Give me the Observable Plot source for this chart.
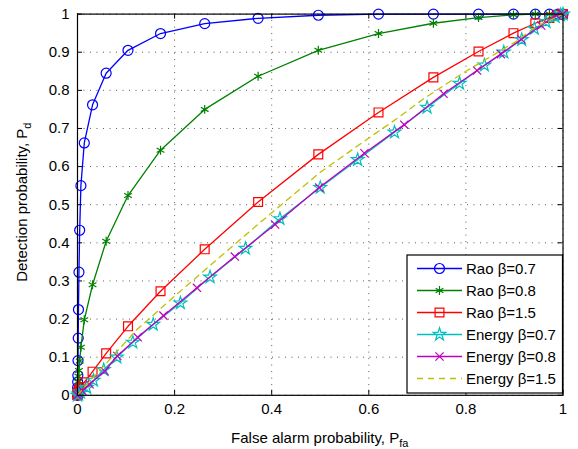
<!DOCTYPE html>
<html><head><meta charset="utf-8">
<script src="https://cdn.jsdelivr.net/npm/d3@7"></script>
<script src="https://cdn.jsdelivr.net/npm/@observablehq/plot@0.6"></script>
<style>
body{margin:0;background:#fff;}
svg{font-family:Arial,"Liberation Sans",Helvetica,sans-serif;}
</style>
</head><body><div id="chart"></div>
<script>
// ---- data ----
const raoPfa   = [0, 0.0002, 0.0004, 0.0007, 0.001, 0.0015, 0.002, 0.003, 0.0045, 0.007, 0.014, 0.031, 0.059, 0.104, 0.171, 0.262, 0.372, 0.496, 0.62, 0.733, 0.826, 0.898, 0.943, 0.972, 0.99, 1];
const raoB07Pd = [0, 0.02, 0.035, 0.052, 0.091, 0.15, 0.225, 0.323, 0.433, 0.55, 0.662, 0.762, 0.845, 0.905, 0.949, 0.975, 0.989, 0.997, 1, 1, 1, 1, 1, 1, 1, 1];
const raoB08Pd = [0, 0.005, 0.01, 0.018, 0.025, 0.035, 0.05, 0.065, 0.09, 0.126, 0.198, 0.29, 0.404, 0.524, 0.643, 0.75, 0.837, 0.905, 0.949, 0.976, 0.991, 0.998, 1, 1, 1, 1];
const raoB15Pd = [0, 0.001, 0.002, 0.003, 0.005, 0.007, 0.009, 0.012, 0.016, 0.022, 0.034, 0.062, 0.11, 0.181, 0.273, 0.383, 0.507, 0.632, 0.742, 0.834, 0.902, 0.95, 0.976, 0.99, 0.998, 1];

const enB07Pfa = [0, 0.002, 0.006, 0.019, 0.033, 0.054, 0.081, 0.114, 0.156, 0.212, 0.273, 0.346, 0.417, 0.5, 0.577, 0.653, 0.72, 0.787, 0.838, 0.878, 0.915, 0.941, 0.965, 0.984, 0.995, 1];
const enB07Pd  = [0, 0.003, 0.008, 0.02, 0.039, 0.067, 0.1, 0.139, 0.186, 0.242, 0.31, 0.385, 0.463, 0.545, 0.618, 0.69, 0.755, 0.818, 0.866, 0.9, 0.933, 0.962, 0.98, 0.993, 0.998, 1];

const enB08Pfa = [0, 0.003, 0.01, 0.025, 0.056, 0.082, 0.124, 0.177, 0.246, 0.324, 0.407, 0.498, 0.591, 0.673, 0.754, 0.823, 0.872, 0.914, 0.955, 0.986, 1];
const enB08Pd  = [0, 0.004, 0.012, 0.029, 0.063, 0.103, 0.152, 0.209, 0.282, 0.364, 0.448, 0.545, 0.635, 0.71, 0.791, 0.852, 0.895, 0.934, 0.97, 0.997, 1];

const enB15Pfa = [0, 0.02, 0.055, 0.122, 0.2, 0.3, 0.373, 0.5, 0.6, 0.658, 0.713, 0.8, 0.902, 0.943, 1];
const enB15Pd  = [0, 0.03, 0.078, 0.172, 0.26, 0.37, 0.45, 0.585, 0.675, 0.726, 0.778, 0.85, 0.927, 0.966, 1];

const seriesNames = ["Rao \u03b2=0.7", "Rao \u03b2=0.8", "Rao \u03b2=1.5", "Energy \u03b2=0.7", "Energy \u03b2=0.8", "Energy \u03b2=1.5"];
const seriesX = [raoPfa, raoPfa, raoPfa, enB07Pfa, enB08Pfa, enB15Pfa];
const seriesY = [raoB07Pd, raoB08Pd, raoB15Pd, enB07Pd, enB08Pd, enB15Pd];

const xTicks = [0, 0.2, 0.4, 0.6, 0.8, 1];
const xTickLabels = ["0", "0.2", "0.4", "0.6", "0.8", "1"];
const yTicks = [0, 0.1, 0.2, 0.3, 0.4, 0.5, 0.6, 0.7, 0.8, 0.9, 1];
const yTickLabels = ["0", "0.1", "0.2", "0.3", "0.4", "0.5", "0.6", "0.7", "0.8", "0.9", "1"];

// ---- styles ----
const colors = ["#0000ff", "#008000", "#ff0000", "#00bfbf", "#bf00bf", "#bfbf00"];
const symbols = ["circle", "asterisk", "square", "star", "times", null];
const symbolR = [5, 4.2, 5, 4, 3.8, 0];
const dashes = [null, null, null, null, null, "6,5"];

const rows = [];
seriesNames.forEach((name, s) => {
  seriesX[s].forEach((x, i) => rows.push({series: name, s, x, y: seriesY[s][i]}));
});

const W = 578, H = 449;
const mL = 77, mR = 15.5, mT = 13.6, mB = 54.2;
const innerW = W - mL - mR, innerH = H - mT - mB;

const marks = [
  Plot.gridX(xTicks, {stroke: "#000", strokeOpacity: 0.65, strokeDasharray: "1,5.5", strokeWidth: 1}),
  Plot.gridY(yTicks, {stroke: "#000", strokeOpacity: 0.65, strokeDasharray: "1,5.5", strokeWidth: 1}),
  Plot.tickX(xTicks, {x: d => d, insetTop: innerH - 5, stroke: "#000"}),
  Plot.tickX(xTicks, {x: d => d, insetBottom: innerH - 5, stroke: "#000"}),
  Plot.tickY(yTicks, {y: d => d, insetRight: innerW - 5, stroke: "#000"}),
  Plot.tickY(yTicks, {y: d => d, insetLeft: innerW - 5, stroke: "#000"}),
  Plot.axisX({ticks: xTicks, tickSize: 0, tickPadding: 8, tickFormat: (d) => xTickLabels[xTicks.indexOf(d)], label: null, fontSize: 15, fill: "#000"}),
  Plot.axisY({ticks: yTicks, tickSize: 0, tickPadding: 8, tickFormat: (d) => yTickLabels[yTicks.indexOf(d)], label: null, fontSize: 15, fill: "#000"})
];
seriesNames.forEach((name, s) => {
  const data = rows.filter(r => r.s === s);
  marks.push(Plot.line(data, {x: "x", y: "y", stroke: colors[s], strokeWidth: 1.3, strokeDasharray: dashes[s]}));
  if (symbols[s]) marks.push(Plot.dot(data, {x: "x", y: "y", stroke: colors[s], fill: "none", symbol: () => symbols[s], r: symbolR[s], strokeWidth: 1.2}));
});
marks.push(Plot.frame({stroke: "#000", strokeWidth: 1.2}));

const chart = Plot.plot({
  width: W, height: H,
  marginLeft: mL, marginRight: mR, marginTop: mT, marginBottom: mB,
  x: {domain: [0, 1]},
  y: {domain: [0, 1]},
  style: {fontFamily: "Arial, 'Liberation Sans', sans-serif", fontSize: "15px", background: "#fff", overflow: "visible"},
  marks
});
document.getElementById("chart").appendChild(chart);

// ---- axis titles & legend ----
const svg = d3.select(chart);
const xl = svg.append("text").attr("x", mL + innerW / 2).attr("y", 443).attr("text-anchor", "middle")
  .attr("font-size", 15).attr("fill", "#000");
xl.append("tspan").text("False alarm probability, P");
xl.append("tspan").attr("font-size", 11).attr("dy", 4).text("fa");

const yl = svg.append("text").attr("transform", `translate(27,${mT + innerH / 2 - 2}) rotate(-90)`).attr("text-anchor", "middle")
  .attr("font-size", 15).attr("fill", "#000");
yl.append("tspan").text("Detection probability, P");
yl.append("tspan").attr("font-size", 11).attr("dy", 4).text("d");

const lg = svg.append("g");
lg.append("rect").attr("x", 407).attr("y", 255).attr("width", 155.5).attr("height", 138)
  .attr("fill", "#fff").attr("stroke", "#000").attr("stroke-width", 1.2);
const d3sym = {circle: d3.symbolCircle, asterisk: d3.symbolAsterisk, square: d3.symbolSquare, star: d3.symbolStar, times: d3.symbolTimes};
seriesNames.forEach((name, s) => {
  const yy = 268.5 + s * 22;
  lg.append("line").attr("x1", 417).attr("x2", 462).attr("y1", yy).attr("y2", yy)
    .attr("stroke", colors[s]).attr("stroke-width", 1.3).attr("stroke-dasharray", dashes[s]);
  if (symbols[s]) {
    lg.append("path").attr("transform", `translate(439.5,${yy})`)
      .attr("d", d3.symbol(d3sym[symbols[s]], Math.PI * symbolR[s] * symbolR[s])())
      .attr("fill", "none").attr("stroke", colors[s]).attr("stroke-width", 1.2);
  }
  lg.append("text").attr("x", 466).attr("y", yy).attr("dy", "0.35em").attr("text-anchor", "start")
    .attr("font-size", 15).attr("fill", "#000").text(name);
});
</script>
</body></html>
